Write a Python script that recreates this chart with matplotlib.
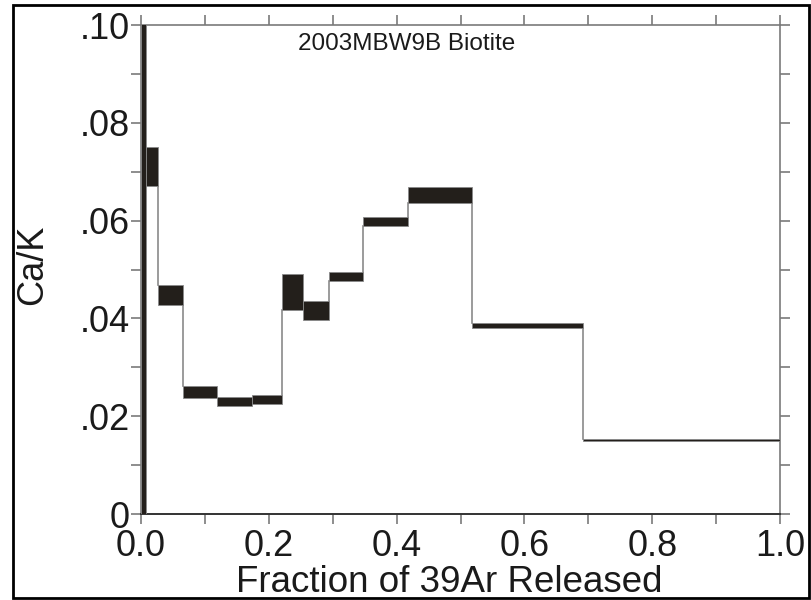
import matplotlib.pyplot as plt
from matplotlib.patches import Rectangle
from matplotlib.ticker import MultipleLocator

plt.rcParams['font.family'] = ['Liberation Sans', 'DejaVu Sans']

# step edges (cumulative fraction of 39Ar) and Ca/K box limits for each step
frac_edges = [0.0, 0.007, 0.026, 0.066, 0.1196, 0.1735, 0.2205, 0.2535,
              0.294, 0.3475, 0.4173, 0.5183, 0.6917, 1.0]
cak_low = [-0.01, 0.0671, 0.0427, 0.0237, 0.0220, 0.0224, 0.0418, 0.0397,
           0.0476, 0.0588, 0.0636, 0.0380, 0.0149]
cak_high = [0.20, 0.0751, 0.0469, 0.0261, 0.0239, 0.0243, 0.0491, 0.0435,
            0.0495, 0.0608, 0.0669, 0.0391, 0.0154]

ytick_vals = [0, 0.02, 0.04, 0.06, 0.08, 0.10]
ytick_text = ['0', '.02', '.04', '.06', '.08', '.10']
xtick_vals = [0.0, 0.2, 0.4, 0.6, 0.8, 1.0]

fig = plt.figure(figsize=(8.12, 6.0), dpi=100)
ax = fig.add_axes([0.1737, 0.1433, 0.787, 0.815])

box_face = '#231f1b'
grey = '#8a8a8a'

for i in range(len(cak_low)):
    x0 = frac_edges[i]
    x1 = frac_edges[i + 1]
    ax.add_patch(Rectangle((x0, cak_low[i]), x1 - x0, cak_high[i] - cak_low[i],
                           facecolor=box_face, edgecolor=grey, linewidth=0.6,
                           zorder=3))
    # vertical connector to the next step
    if i + 1 < len(cak_low):
        if cak_low[i] > cak_high[i + 1]:
            ax.plot([x1, x1], [cak_low[i], cak_high[i + 1]], color=grey,
                    lw=1.2, zorder=2)
        elif cak_high[i] < cak_low[i + 1]:
            ax.plot([x1, x1], [cak_high[i], cak_low[i + 1]], color=grey,
                    lw=1.2, zorder=2)

ax.set_xlim(0, 1.0)
ax.set_ylim(0, 0.10)

ax.set_xticks(xtick_vals)
ax.set_xticklabels(['%.1f' % v for v in xtick_vals])
ax.xaxis.set_minor_locator(MultipleLocator(0.1))
ax.set_yticks(ytick_vals)
ax.set_yticklabels(ytick_text)
ax.yaxis.set_minor_locator(MultipleLocator(0.01))

ax.tick_params(which='both', direction='out', length=7, width=1.2,
               color='#7a7a7a', labelsize=26, labelcolor='#1a1a1a',
               top=True, right=True)
ax.tick_params(axis='x', pad=4)
ax.tick_params(axis='y', pad=1)

for side in ['top', 'right', 'left']:
    ax.spines[side].set_color('#7a7a7a')
    ax.spines[side].set_linewidth(1.2)
ax.spines['bottom'].set_color('#333333')
ax.spines['bottom'].set_linewidth(1.4)

ax.set_xlabel('Fraction of 39Ar Released', fontsize=26.5, color='#1a1a1a')
ax.set_ylabel('Ca/K', fontsize=26, color='#1a1a1a')
ax.xaxis.set_label_coords(0.482, -0.105)
ax.yaxis.set_label_coords(-0.143, 0.509)

ax.text(0.415, 0.962, '2003MBW9B Biotite', transform=ax.transAxes,
        fontsize=17.5, ha='center', va='center', color='#1a1a1a')

# black frame round the whole figure
fig.patches.append(Rectangle((13 / 812, 2 / 600), 796 / 812, 593 / 600,
                             transform=fig.transFigure, fill=False,
                             edgecolor='black', linewidth=2))

fig.savefig('out.png', dpi=100)
